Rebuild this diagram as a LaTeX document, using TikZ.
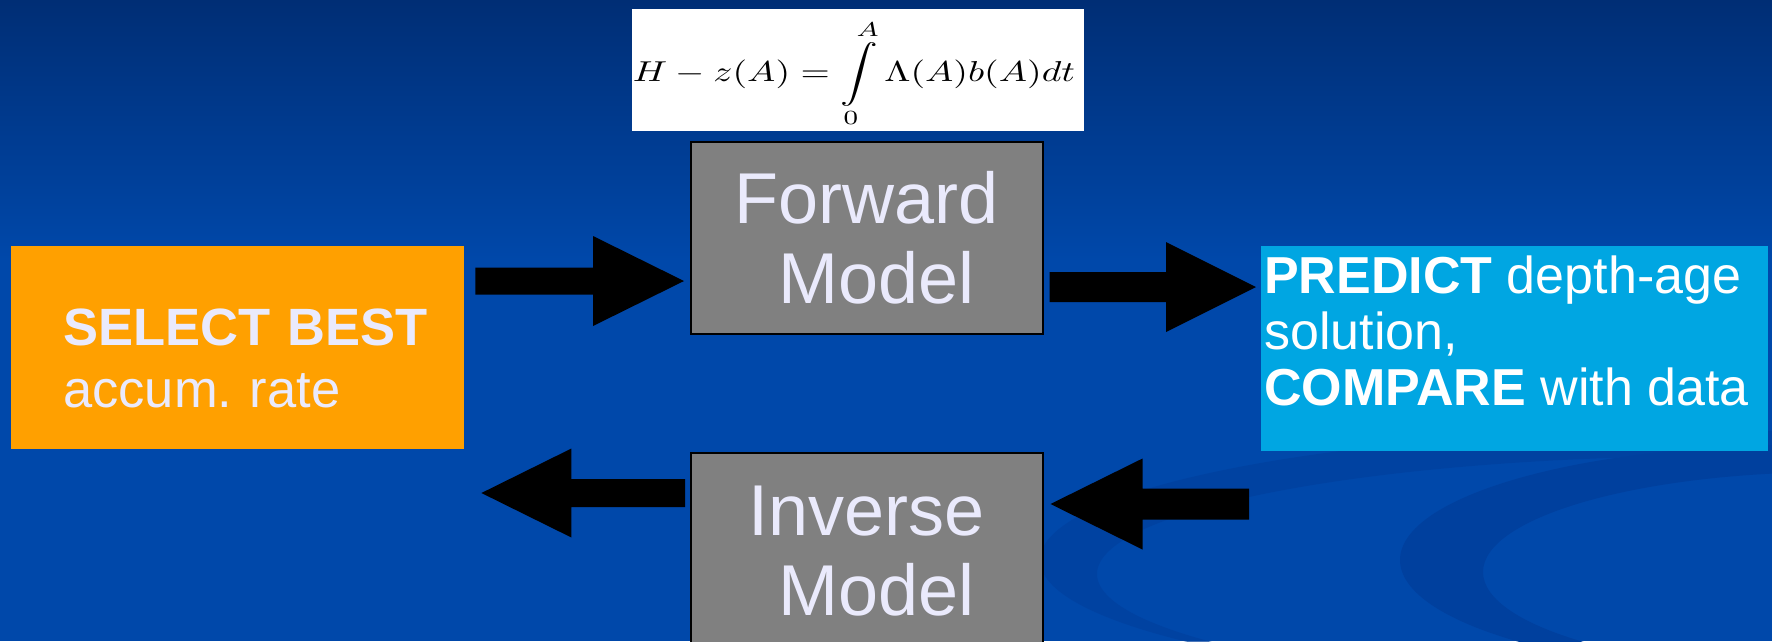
\documentclass[tikz,border=0pt]{standalone}
\usepackage[no-math]{fontspec}
\setmainfont{Liberation Sans}
\usetikzlibrary{calc}
\definecolor{bgtop}{RGB}{0,46,117}
\definecolor{bgbot}{RGB}{0,72,170}
\definecolor{swoosh}{RGB}{0,64,158}
\definecolor{orangebox}{RGB}{255,160,0}
\definecolor{cyanbox}{RGB}{0,166,226}
\definecolor{graybox}{RGB}{128,128,128}
\definecolor{lavtext}{RGB}{234,234,252}
% block arrow: tail, tip, shaft half width, head half width, head length
\newcommand\blockarrow[5]{%
  \fill[black] let \p1=(#1), \p2=(#2), \n1={ifthenelse(\x2>\x1,1,-1)} in
    (\x1,\y1+#3) -- (\x2-\n1*#5,\y1+#3) -- (\x2-\n1*#5,\y1+#4) -- (\x2,\y1)
    -- (\x2-\n1*#5,\y1-#4) -- (\x2-\n1*#5,\y1-#3) -- (\x1,\y1-#3) -- cycle;}
\begin{document}
\begin{tikzpicture}[x=1pt,y=-1pt,
  modelbox/.style={draw=black,line width=1.5pt,fill=graybox,text=lavtext,
    minimum width=352pt,inner sep=0pt,align=center,
    font=\fontsize{72}{80}\selectfont},
  selbox/.style={fill=orangebox,text=lavtext,minimum width=453pt,minimum height=203pt,
    inner xsep=0pt,inner ysep=0pt,align=left,text width=453pt,
    font=\fontsize{52.5}{62}\selectfont},
  predbox/.style={fill=cyanbox,minimum width=507pt,minimum height=205pt,inner sep=0pt},
  predtext/.style={text=white,align=left,inner xsep=3pt,inner ysep=0pt,
    font=\fontsize{52}{56}\selectfont}]
\useasboundingbox (0,0) rectangle (1772,641);
% background
\fill[bgbot] (0,0) rectangle (1772,641);
\shade[top color=bgtop,bottom color=bgbot] (0,0) rectangle (1772,260);
\begin{scope}
  \clip (1040,380) rectangle (1772,641);
  \fill[swoosh,even odd rule,opacity=0.7] (1700,560) ellipse [x radius=660pt,y radius=130pt]
       (1725,574) ellipse [x radius=628pt,y radius=118pt];
  \fill[swoosh,even odd rule] (1800,560) ellipse [x radius=400pt,y radius=115pt]
       (1835,572) ellipse [x radius=352pt,y radius=100pt];
\end{scope}
% equation
\node[fill=white,minimum width=452pt,minimum height=122pt,inner sep=0pt] (eq) at (858,70) {};
\node[inner sep=0pt] (eqt) at ([xshift=-4pt,yshift=-3.5pt]eq.center)
  {\resizebox*{442pt}{107pt}{$\displaystyle H-z(A)=\int\limits_0^A\Lambda(A)b(A)dt$}};
% boxes
\node[selbox,anchor=north west] (sel) at (11,246)
  {\hspace*{52pt}\rule{0pt}{58pt}\textbf{SELECT BEST}\\\hspace*{52pt}accum.\ rate};
\node[modelbox,minimum height=192pt,anchor=north west] (fwd) at (690,141) {Forward\\\hspace*{0.278em}Model};
\node[modelbox,minimum height=196pt,anchor=north west] (inv) at (690,452) {Inverse\\\hspace*{0.278em}Model};
\node[predbox,anchor=north west] (pred) at (1261,246) {};
\node[predtext,anchor=north west] (predt) at ([yshift=-10pt]pred.north west)
  {\textbf{PREDICT} depth-age\\solution,\\\textbf{COMPARE} with data};
% arrows
\coordinate (a1s) at ($(sel.east |- 0,281)+(11,0)$);
\coordinate (a1e) at ($(fwd.west |- 0,281)+(-6,0)$);
\coordinate (a2s) at ($(fwd.east |- 0,287)+(6,0)$);
\coordinate (a2e) at ($(pred.west |- 0,287)+(-5,0)$);
\coordinate (a3s) at ($(pred.west |- 0,504)+(-12,0)$);
\coordinate (a3e) at ($(inv.east |- 0,504)+(7,0)$);
\coordinate (a4s) at ($(inv.west |- 0,493)+(-5,0)$);
\coordinate (a4e) at ($(sel.east |- 0,493)+(17,0)$);
\blockarrow{a1s}{a1e}{13.5pt}{45pt}{91pt}
\blockarrow{a2s}{a2e}{15pt}{45pt}{90pt}
\blockarrow{a3s}{a3e}{15.5pt}{45.5pt}{92pt}
\blockarrow{a4s}{a4e}{14pt}{44.5pt}{90pt}
\end{tikzpicture}
\end{document}
